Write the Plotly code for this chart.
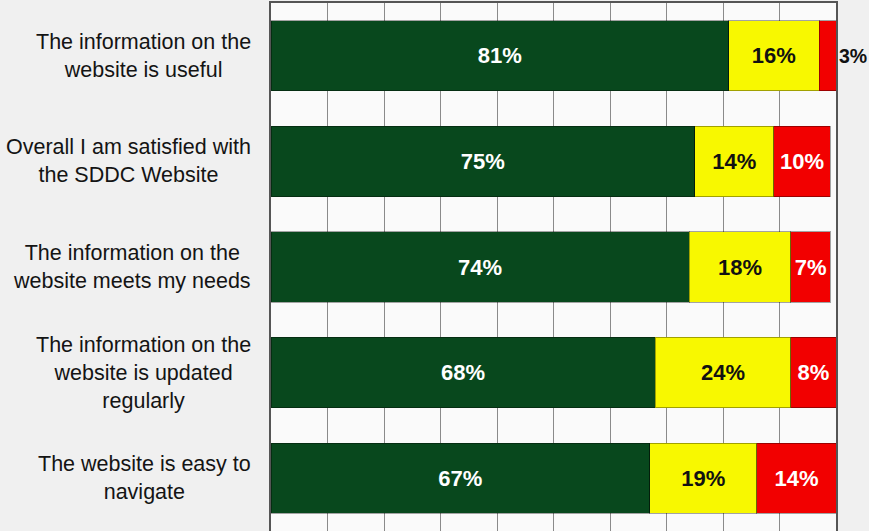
import plotly.graph_objects as go

# Survey statements (top to bottom) and response shares in percent
statements = [
    "The information on the<br>website is useful",
    "Overall I am satisfied with<br>the SDDC Website",
    "The information on the<br>website meets my needs",
    "The information on the<br>website is updated<br>regularly",
    "The website is easy to<br>navigate",
]
agree = [81, 75, 74, 68, 67]
neutral = [16, 14, 18, 24, 19]
disagree = [3, 10, 7, 8, 14]

GREEN = "#08481d"
YELLOW = "#f8f800"
RED = "#f20000"
FONT = "Liberation Sans, Arial, sans-serif"

fig = go.Figure()


def add_segment(values, color, text_color, positions):
    fig.add_trace(go.Bar(
        y=statements,
        x=values,
        orientation="h",
        marker=dict(color=color, line=dict(color="rgba(0,0,0,0.35)", width=1)),
        text=[f"{v}%" for v in values],
        textposition=positions,
        insidetextanchor="middle",
        insidetextfont=dict(family=FONT, size=22, color=text_color),
        outsidetextfont=dict(family=FONT, size=19.5, color="#111111"),
        textfont=dict(family=FONT, size=22),
        constraintext="none",
        cliponaxis=False,
        texttemplate="<b>%{text}</b>",
        hoverinfo="skip",
    ))


add_segment(agree, GREEN, "white", "inside")
add_segment(neutral, YELLOW, "#111111", "inside")
add_segment(disagree, RED, "white",
            ["outside" if v < 5 else "inside" for v in disagree])

# Category labels, centred line by line and right-aligned to the plot edge
for s in statements:
    fig.add_annotation(
        x=0, xref="paper", xanchor="right", xshift=-18,
        y=s, yref="y", yanchor="middle",
        text=s, align="center", showarrow=False,
        font=dict(family=FONT, size=21.5, color="#141414"),
    )

fig.update_layout(
    width=869,
    height=531,
    margin=dict(l=271, r=33, t=3, b=0),
    barmode="stack",
    bargap=0.335,
    paper_bgcolor="#f0f0f0",
    plot_bgcolor="#fafafa",
    showlegend=False,
    xaxis=dict(
        range=[0, 100],
        dtick=10,
        side="top",
        showticklabels=False,
        ticks="",
        showgrid=True,
        gridcolor="#8a8a8a",
        gridwidth=1,
        showline=True,
        linecolor="#555555",
        linewidth=1.5,
        zeroline=False,
    ),
    yaxis=dict(
        categoryorder="array",
        categoryarray=statements,
        autorange="reversed",
        showticklabels=False,
        ticks="",
        showgrid=False,
        showline=True,
        mirror=True,
        linecolor="#555555",
        linewidth=1.5,
        zeroline=False,
    ),
)

fig.write_html("out.html")
